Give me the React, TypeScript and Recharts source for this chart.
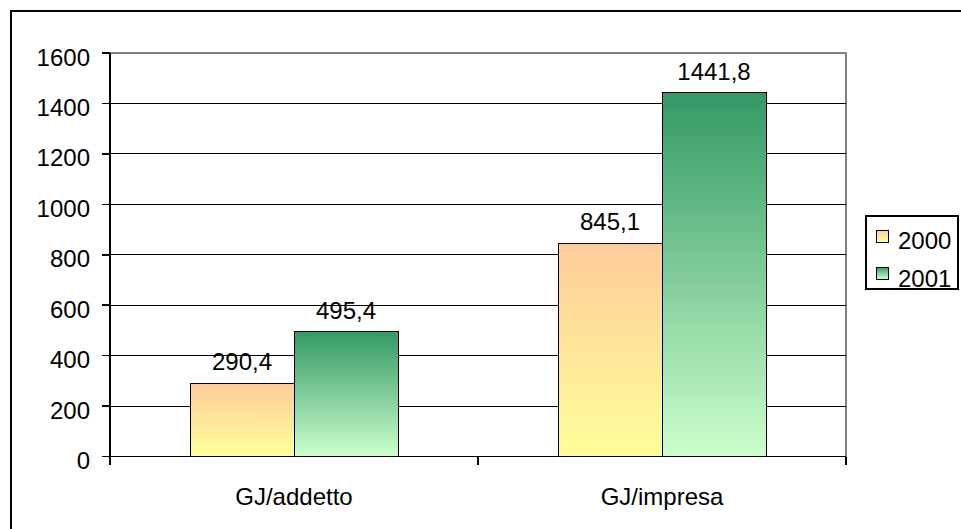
import { BarChart, Bar, XAxis, YAxis, CartesianGrid, LabelList } from "recharts";

const CATEGORIES = ["GJ/addetto", "GJ/impresa"];
const YEARS = ["2000", "2001"];
const VALUES_2000 = [290.4, 845.1];
const VALUES_2001 = [495.4, 1441.8];
const Y_TICKS = [0, 200, 400, 600, 800, 1000, 1200, 1400, 1600];

// top / bottom gradient stops per series
const FILLS = [
  { id: "g2000", top: "#FFCC99", bottom: "#FFFF99" },
  { id: "g2001", top: "#339966", bottom: "#CCFFCC" },
];

const W = 961;
const H = 529;
const PLOT_LEFT = 110;
const PLOT_RIGHT = 846;
const PLOT_TOP = 53;
const PLOT_BOTTOM = 456.5;
const BAND_HALF = (PLOT_RIGHT - PLOT_LEFT) / CATEGORIES.length / 2;

const data = CATEGORIES.map((name, i) => ({
  name,
  [YEARS[0]]: VALUES_2000[i],
  [YEARS[1]]: VALUES_2001[i],
}));

const fmt = (v: unknown) => Number(v).toFixed(1).replace(".", ",");

function CategoryTick(props: any) {
  const { x, y, payload, index } = props;
  const half = payload?.offset || BAND_HALF;
  return (
    <g>
      <line x1={x - half} x2={x - half} y1={y} y2={y + 8.5} stroke="#000" strokeWidth={1.5} />
      {index === CATEGORIES.length - 1 && (
        <line x1={x + half} x2={x + half} y1={y} y2={y + 8.5} stroke="#000" strokeWidth={1.5} />
      )}
      <text x={x} y={y + 48.5} textAnchor="middle" fontSize={24} fill="#000">
        {payload.value}
      </text>
    </g>
  );
}

// grey plot-area frame (top and right edges), sits behind the chart
function PlotFrame() {
  return (
    <svg width={W} height={H} style={{ position: "absolute", left: 0, top: 0 }}>
      <polyline
        points={`${PLOT_LEFT},${PLOT_TOP} ${PLOT_RIGHT},${PLOT_TOP} ${PLOT_RIGHT},${PLOT_BOTTOM}`}
        fill="none"
        stroke="#808080"
        strokeWidth={1.5}
      />
    </svg>
  );
}

function LegendBox() {
  return (
    <svg width={W} height={H} style={{ position: "absolute", left: 0, top: 0, pointerEvents: "none" }}>
      <defs>
        {FILLS.map((f) => (
          <linearGradient key={f.id} id={`lg-${f.id}`} x1="0" y1="0" x2="0" y2="1">
            <stop offset="0%" stopColor={f.top} />
            <stop offset="100%" stopColor={f.bottom} />
          </linearGradient>
        ))}
      </defs>
      <rect x={866} y={216} width={92} height={73} fill="#fff" stroke="#000" strokeWidth={1.5} />
      {YEARS.map((year, i) => (
        <g key={year}>
          <rect x={876} y={230 + i * 37} width={12} height={12} fill={`url(#lg-${FILLS[i].id})`} stroke="#000" strokeWidth={1} />
          <text x={898} y={249 + i * 38} fontSize={24} fill="#000">
            {year}
          </text>
        </g>
      ))}
    </svg>
  );
}

export default function App() {
  return (
    <div
      style={{
        position: "absolute",
        left: 0,
        top: 0,
        width: W,
        height: H,
        overflow: "hidden",
        background: "#fff",
        fontFamily: "'Liberation Sans', Arial, sans-serif",
        shapeRendering: "crispEdges",
      }}
    >
      <div
        style={{
          position: "absolute",
          left: 10,
          top: 10,
          width: 1000,
          height: 600,
          border: "2px solid #000",
        }}
      />
      <PlotFrame />
      <div style={{ position: "absolute", left: 0, top: 0 }}>
        <BarChart
          width={W}
          height={H}
          data={data}
          margin={{ top: PLOT_TOP, right: W - PLOT_RIGHT, bottom: H - PLOT_BOTTOM - 30, left: PLOT_LEFT - 100 }}
          barCategoryGap="21.74%"
          barGap={0}
        >
          <defs>
            {FILLS.map((f) => (
              <linearGradient key={f.id} id={f.id} x1="0" y1="0" x2="0" y2="1">
                <stop offset="0%" stopColor={f.top} />
                <stop offset="100%" stopColor={f.bottom} />
              </linearGradient>
            ))}
          </defs>
          <CartesianGrid vertical={false} stroke="#000" strokeWidth={1} horizontalValues={Y_TICKS.slice(1, -1)} />
          <XAxis
            dataKey="name"
            height={30}
            axisLine={{ stroke: "#000", strokeWidth: 1.5 }}
            tickLine={false}
            tickSize={0}
            tickMargin={0}
            interval={0}
            tick={<CategoryTick />}
          />
          <YAxis
            width={100}
            domain={[0, 1600]}
            ticks={Y_TICKS}
            interval={0}
            axisLine={{ stroke: "#000", strokeWidth: 1.5 }}
            tickLine={{ stroke: "#000", strokeWidth: 1.5 }}
            tickSize={8}
            tickMargin={12}
            tick={{ fontSize: 24, fill: "#000", dy: 4 }}
          />
          {YEARS.map((year, i) => (
            <Bar
              key={year}
              dataKey={year}
              fill={`url(#${FILLS[i].id})`}
              stroke="#000"
              strokeWidth={1}
              isAnimationActive={false}
            >
              <LabelList dataKey={year} position="top" offset={13} fontSize={24} fill="#000" formatter={fmt} />
            </Bar>
          ))}
        </BarChart>
      </div>
      <LegendBox />
    </div>
  );
}
